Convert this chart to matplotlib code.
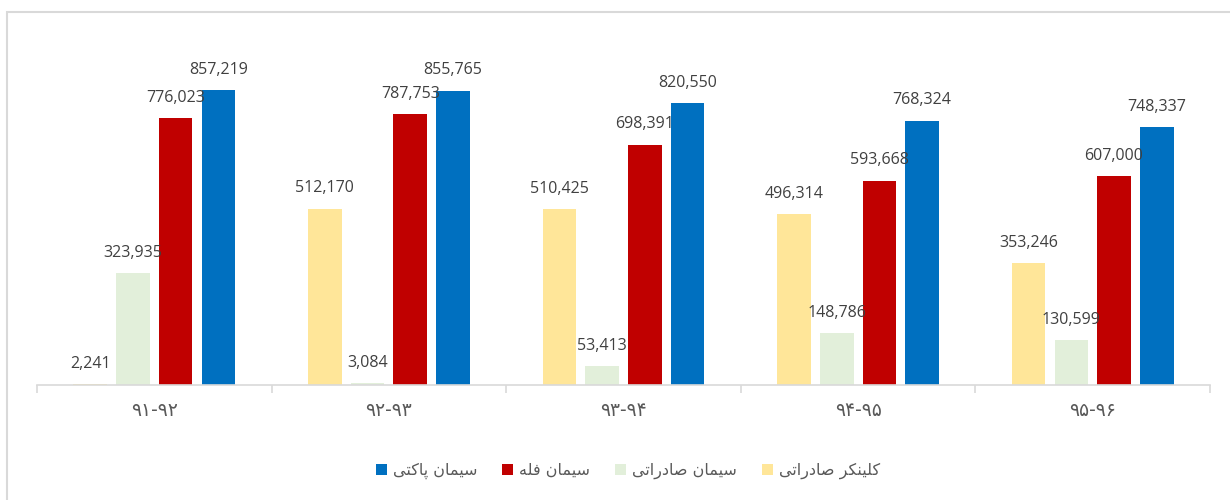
import matplotlib
matplotlib.use("Agg")
import matplotlib.pyplot as plt
import numpy as np
from matplotlib.patches import Rectangle

# ---------------- data ----------------
categories = ["۹۱-۹۲", "۹۲-۹۳", "۹۳-۹۴", "۹۴-۹۵", "۹۵-۹۶"]
series_names = ["کلینکر صادراتی", "سیمان صادراتی", "سیمان فله", "سیمان پاکتی"]
clinker_export = [2241, 512170, 510425, 496314, 353246]
cement_export = [323935, 3084, 53413, 148786, 130599]
cement_bulk = [776023, 787753, 698391, 593668, 607000]
cement_packed = [857219, 855765, 820550, 768324, 748337]
colors = ["#FFE699", "#E2EFDA", "#C00000", "#0070C0"]

# ---------------- minimal Persian shaping (matplotlib has no bidi/shaping) -----------
FORMS = {
    "ا": ("\uFE8D", "\uFE8E", None, None),
    "ب": ("\uFE8F", "\uFE90", "\uFE91", "\uFE92"),
    "پ": ("\uFB56", "\uFB57", "\uFB58", "\uFB59"),
    "ت": ("\uFE95", "\uFE96", "\uFE97", "\uFE98"),
    "د": ("\uFEA9", "\uFEAA", None, None),
    "ر": ("\uFEAD", "\uFEAE", None, None),
    "س": ("\uFEB1", "\uFEB2", "\uFEB3", "\uFEB4"),
    "ص": ("\uFEB9", "\uFEBA", "\uFEBB", "\uFEBC"),
    "ف": ("\uFED1", "\uFED2", "\uFED3", "\uFED4"),
    "ک": ("\uFB8E", "\uFB8F", "\uFB90", "\uFB91"),
    "ل": ("\uFEDD", "\uFEDE", "\uFEDF", "\uFEE0"),
    "م": ("\uFEE1", "\uFEE2", "\uFEE3", "\uFEE4"),
    "ن": ("\uFEE5", "\uFEE6", "\uFEE7", "\uFEE8"),
    "ه": ("\uFEE9", "\uFEEA", "\uFEEB", "\uFEEC"),
    "ی": ("\uFBFC", "\uFBFD", "\uFBFE", "\uFBFF"),
}


def shape(text):
    out = []
    n = len(text)
    for i, ch in enumerate(text):
        if ch not in FORMS:
            out.append(ch)
            continue
        prev = text[i - 1] if i > 0 else None
        nxt = text[i + 1] if i < n - 1 else None
        jp = prev in FORMS and FORMS[prev][2] is not None
        jn = FORMS[ch][2] is not None and nxt in FORMS
        iso, fin, ini, med = FORMS[ch]
        if jp and jn:
            out.append(med)
        elif jp:
            out.append(fin)
        elif jn:
            out.append(ini)
        else:
            out.append(iso)
    return "".join(out)[::-1]


plt.rcParams["font.family"] = ["Open Sans", "DejaVu Sans"]

fig = plt.figure(figsize=(12.3, 5.0), dpi=100)
W, H = 1230, 500
ax = fig.add_axes([37 / W, 1 - 384.5 / H, (1210 - 37) / W, (384.5 - 41) / H])

# chart border
fig.patches.append(Rectangle((7 / W, -0.2), 1.2, 1 - 12 / H + 0.2, transform=fig.transFigure,
                             fill=False, edgecolor="#D9D9D9", lw=1.5, zorder=0))

data = [clinker_export, cement_export, cement_bulk, cement_packed]
x = np.arange(len(categories))
step = 0.182
width = 0.143
handles = []
for i, (vals, col, name) in enumerate(zip(data, colors, series_names)):
    pos = x + (i - 1.5) * step
    b = ax.bar(pos, vals, width=width, color=col, label=shape(name), zorder=2)
    handles.append(b)
    for px, v in zip(pos, vals):
        ax.annotate(f"{v:,}", (px, v), xytext=(0, 14.5), textcoords="offset points",
                    ha="center", va="center", fontsize=11.5, color="#404040", zorder=3)

ax.set_xlim(-0.5, len(categories) - 0.5)
ax.set_ylim(0, 1_000_000)
ax.set_yticks([])
for s in ["top", "left", "right"]:
    ax.spines[s].set_visible(False)
ax.spines["bottom"].set_color("#D9D9D9")
ax.spines["bottom"].set_linewidth(1.2)

ax.set_xticks(x)
ax.set_xticklabels(categories, fontsize=13.5, color="#595959", family=["DejaVu Sans"])
ax.tick_params(axis="x", which="major", length=0, pad=12)
ax.set_xticks(np.arange(-0.5, len(categories), 1.0), minor=True)
ax.tick_params(axis="x", which="minor", length=6, color="#D9D9D9", width=1.2)

leg = fig.legend(handles=[handles[3], handles[2], handles[1], handles[0]],
                 labels=[shape(series_names[3]), shape(series_names[2]),
                         shape(series_names[1]), shape(series_names[0])],
                 loc="center", bbox_to_anchor=(628 / W, 1 - 471 / H), ncol=4,
                 frameon=False, handlelength=0.7, handleheight=0.7,
                 handletextpad=0.38, columnspacing=1.55, prop={"family": ["DejaVu Sans"], "size": 11.5})
for t in leg.get_texts():
    t.set_color("#595959")

fig.savefig("out.png", dpi=100)
